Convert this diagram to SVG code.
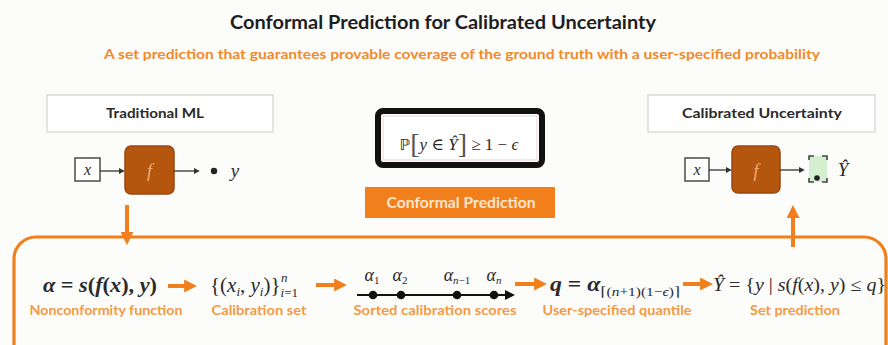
<svg xmlns="http://www.w3.org/2000/svg" width="888" height="345" viewBox="0 0 888 345">
<defs>
<style>
.sans{font-family:Lato,"Open Sans","Noto Sans",sans-serif}
.title{font-size:19px;fill:#1e1e1e;font-weight:bold}
.sub{font-size:13.5px;fill:#f08a2c;font-weight:bold}
.hdr{font-size:14px;fill:#2a2a2a;font-weight:bold}
.lbl{font-size:13.5px;fill:#f39a45;font-weight:bold}
.math{font-family:"Liberation Serif","DejaVu Serif",serif;fill:#2a2a2a}
.it{font-style:italic}
.hbox{fill:#ffffff;stroke:#d6d6d6;stroke-width:1.3}
.xbox{fill:#ffffff;stroke:#555;stroke-width:1.6}
.fbox{fill:#b5560f;stroke:#9b4710;stroke-width:1.5}
.ftxt{font-family:"Liberation Serif",serif;font-style:italic;font-size:18px;fill:#f0b07a}
.bl{stroke:#333;stroke-width:1.3;fill:none}
.or{stroke:#f07f1c;stroke-width:4;fill:none}
.orl{stroke:#f07f1c;stroke-width:3.2;fill:none}
</style>
<marker id="ba" viewBox="0 0 10 10" refX="2" refY="5" markerWidth="6" markerHeight="6" markerUnits="userSpaceOnUse" orient="auto"><path d="M0,0 L10,5 L0,10 z" fill="#333"/></marker>
<marker id="oa" viewBox="0 0 10 10" refX="3" refY="5" markerWidth="13" markerHeight="13" markerUnits="userSpaceOnUse" orient="auto"><path d="M0,0 L10,5 L0,10 z" fill="#f07f1c"/></marker>
<marker id="ka" viewBox="0 0 10 10" refX="3" refY="5" markerWidth="10" markerHeight="10" markerUnits="userSpaceOnUse" orient="auto"><path d="M0,0 L10,5 L0,10 z" fill="#111"/></marker>
</defs>
<rect width="888" height="345" fill="#fcfcfa"/>

<g id="title">
<text class="sans title" x="443" y="29" text-anchor="middle" textLength="426" lengthAdjust="spacingAndGlyphs">Conformal Prediction for Calibrated Uncertainty</text>
<text class="sans sub" x="462" y="59" text-anchor="middle" textLength="716" lengthAdjust="spacingAndGlyphs">A set prediction that guarantees provable coverage of the ground truth with a user-specified probability</text>
</g>

<g id="pipeline-frame">
<rect x="14" y="237" width="872" height="140" rx="22" class="orl"/>
</g>

<g id="traditional-ml">
<rect class="hbox" x="47" y="95" width="226" height="37"/>
<text class="sans hdr" x="155" y="118" text-anchor="middle" textLength="98" lengthAdjust="spacingAndGlyphs">Traditional ML</text>
</g>
<g id="trad-x">
<rect class="xbox" x="75" y="158" width="25" height="23"/>
<text class="math it" x="87.5" y="175" font-size="16" text-anchor="middle">x</text>
</g>
<g id="trad-f">
<rect class="fbox" x="125" y="146" width="49" height="48" rx="6"/>
<text class="ftxt" x="149.5" y="177" text-anchor="middle">f</text>
</g>
<g id="trad-y">
<circle cx="214" cy="171" r="3.2" fill="#222"/>
<text class="math it" x="235" y="177" font-size="19" text-anchor="middle">y</text>
</g>

<g id="coverage">
<rect x="378" y="111" width="164" height="54" rx="5" fill="#ffffff" stroke="#111" stroke-width="6"/>
<rect x="383" y="116" width="154" height="44" fill="none" stroke="#e8c8c8" stroke-width="0.8"/>
<text class="math" x="459" y="150" font-size="17" text-anchor="middle"><tspan font-family="DejaVu Sans" font-size="15">ℙ</tspan><tspan font-size="28" dy="3" fill="#555">[</tspan><tspan class="it" dy="-3">y</tspan> ∈ <tspan class="it">Ŷ</tspan><tspan font-size="28" dy="3" fill="#555">]</tspan><tspan dy="-3"> ≥ 1 − </tspan><tspan class="it">ϵ</tspan></text>
</g>

<g id="conformal-prediction">
<rect x="365" y="187" width="190" height="31" fill="#f07f1c"/>
<text class="sans" x="461" y="208" font-size="15.5" font-weight="bold" fill="#fde6d0" text-anchor="middle" textLength="149" lengthAdjust="spacingAndGlyphs">Conformal Prediction</text>
</g>

<g id="calibrated-uncertainty">
<rect class="hbox" x="648" y="95" width="227" height="37"/>
<text class="sans hdr" x="762" y="118" text-anchor="middle" textLength="160" lengthAdjust="spacingAndGlyphs">Calibrated Uncertainty</text>
</g>
<g id="cal-x">
<rect class="xbox" x="685" y="158" width="24" height="23"/>
<text class="math it" x="697" y="175" font-size="16" text-anchor="middle">x</text>
</g>
<g id="cal-f">
<rect class="fbox" x="732" y="146" width="48" height="47" rx="6"/>
<text class="ftxt" x="756" y="177" text-anchor="middle">f</text>
</g>
<g id="cal-set">
<rect x="809" y="156" width="18" height="26" fill="#d3efcf"/>
<path d="M809,160 V156 H814 M822,156 H827 V160 M809,178 V182 H814 M822,182 H827 V178" stroke="#444" stroke-width="1.6" fill="none"/>
<circle cx="817" cy="178" r="2.8" fill="#222"/>
<text class="math it" x="843" y="176" font-size="19" text-anchor="middle">Ŷ</text>
</g>

<g id="nonconformity">
<text class="math" x="100" y="292" font-size="20" text-anchor="middle" font-weight="bold" textLength="114" lengthAdjust="spacingAndGlyphs"><tspan class="it">α</tspan> = <tspan class="it">s</tspan>(<tspan class="it">f</tspan>(<tspan class="it">x</tspan>), <tspan class="it">y</tspan>)</text>
<text class="sans lbl" x="106" y="315" text-anchor="middle" textLength="153" lengthAdjust="spacingAndGlyphs">Nonconformity function</text>
</g>

<g id="calibration-set">
<text class="math" x="210" y="292" font-size="21">{(<tspan class="it">x</tspan><tspan class="it" font-size="13" dy="4">i</tspan><tspan dy="-4">, </tspan><tspan class="it">y</tspan><tspan class="it" font-size="13" dy="4">i</tspan><tspan dy="-4">)}</tspan><tspan font-size="13" dy="5"><tspan class="it">i</tspan>=1</tspan><tspan class="it" font-size="13" dx="-17" dy="-15">n</tspan></text>
<text class="sans lbl" x="259" y="315" text-anchor="middle" textLength="95" lengthAdjust="spacingAndGlyphs">Calibration set</text>
</g>

<g id="sorted-scores">
<circle cx="373" cy="295" r="4.3" fill="#111"/>
<circle cx="401" cy="295" r="4.3" fill="#111"/>
<circle cx="457" cy="295" r="4.3" fill="#111"/>
<circle cx="494" cy="295" r="4.3" fill="#111"/>
<text class="math it" x="372" y="281" font-size="18" text-anchor="middle">α<tspan font-style="normal" font-size="11" dy="3">1</tspan></text>
<text class="math it" x="400" y="281" font-size="18" text-anchor="middle">α<tspan font-style="normal" font-size="11" dy="3">2</tspan></text>
<text class="math it" x="457" y="281" font-size="18" text-anchor="middle">α<tspan font-size="11" dy="3">n</tspan><tspan font-style="normal" font-size="11">−1</tspan></text>
<text class="math it" x="494" y="281" font-size="18" text-anchor="middle">α<tspan font-size="11" dy="3">n</tspan></text>
<text class="sans lbl" x="435" y="315" text-anchor="middle" textLength="163" lengthAdjust="spacingAndGlyphs">Sorted calibration scores</text>
</g>

<g id="quantile">
<text class="math" x="550" y="291" font-size="20" font-weight="bold" textLength="130" lengthAdjust="spacingAndGlyphs"><tspan class="it">q</tspan> = <tspan class="it">α</tspan><tspan font-size="13" font-weight="normal" dy="5">⌈(<tspan class="it">n</tspan>+1)(1−<tspan class="it">ϵ</tspan>)⌉</tspan></text>
<text class="sans lbl" x="617" y="315" text-anchor="middle" textLength="149" lengthAdjust="spacingAndGlyphs">User-specified quantile</text>
</g>

<g id="set-prediction">
<text class="math" x="713" y="291" font-size="18" textLength="173" lengthAdjust="spacingAndGlyphs"><tspan class="it">Ŷ</tspan> = {<tspan class="it">y</tspan> | <tspan class="it">s</tspan>(<tspan class="it">f</tspan>(<tspan class="it">x</tspan>), <tspan class="it">y</tspan>) ≤ <tspan class="it">q</tspan>}</text>
<text class="sans lbl" x="795" y="315" text-anchor="middle" textLength="90" lengthAdjust="spacingAndGlyphs">Set prediction</text>
</g>

<g id="connectors">
<line class="bl" x1="100" y1="171" x2="120" y2="171" marker-end="url(#ba)"/>
<line class="bl" x1="174" y1="171" x2="195" y2="171" marker-end="url(#ba)"/>
<line class="bl" x1="709" y1="170" x2="727" y2="170" marker-end="url(#ba)"/>
<line class="bl" x1="780" y1="170" x2="800" y2="170" marker-end="url(#ba)"/>
<line x1="127" y1="205" x2="127" y2="236" stroke="#f07f1c" stroke-width="4" marker-end="url(#oa)"/>
<line x1="793" y1="247" x2="793" y2="214" stroke="#f07f1c" stroke-width="4" marker-end="url(#oa)"/>
<line class="or" x1="168" y1="286" x2="188" y2="286" marker-end="url(#oa)"/>
<line class="or" x1="316" y1="285" x2="338" y2="285" marker-end="url(#oa)"/>
<line class="or" x1="515" y1="284" x2="538" y2="284" marker-end="url(#oa)"/>
<line class="or" x1="683" y1="284" x2="704" y2="284" marker-end="url(#oa)"/>
<line x1="357" y1="295" x2="508" y2="295" stroke="#111" stroke-width="2.2" marker-end="url(#ka)"/>
</g>
</svg>
